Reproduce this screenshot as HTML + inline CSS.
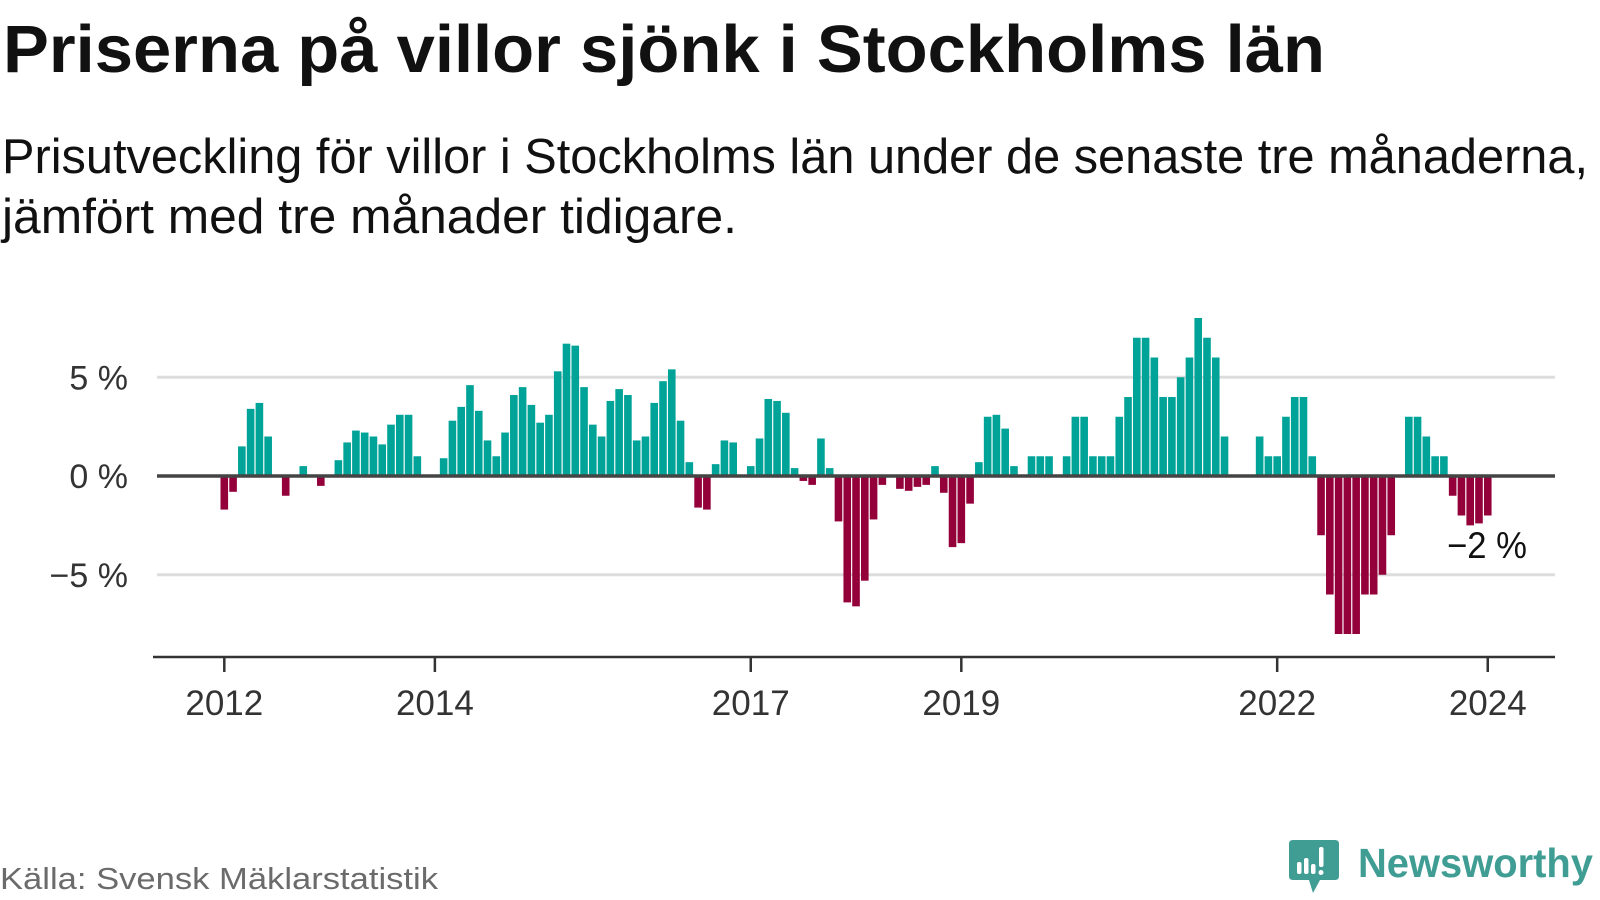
<!DOCTYPE html>
<html><head><meta charset="utf-8"><style>
html,body{margin:0;padding:0;background:#fff;}
svg{display:block;}
text{font-family:"Liberation Sans",sans-serif;}
</style></head><body>
<svg id="chart" width="1600" height="900" viewBox="0 0 1600 900">
<text x="3" y="72" font-size="67" font-weight="bold" fill="#111" textLength="1322" lengthAdjust="spacingAndGlyphs">Priserna på villor sjönk i Stockholms län</text>
<text x="2" y="173" font-size="49" fill="#111" textLength="1586" lengthAdjust="spacingAndGlyphs">Prisutveckling för villor i Stockholms län under de senaste tre månaderna,</text>
<text x="2" y="233" font-size="49" fill="#111" textLength="735" lengthAdjust="spacingAndGlyphs">jämfört med tre månader tidigare.</text>
<g id="grid"></g>
<g id="bars"></g>
<g id="axis"></g>
<text x="1447" y="558" font-size="37" fill="#111" stroke="#fff" stroke-width="6" paint-order="stroke" textLength="80" lengthAdjust="spacingAndGlyphs">−2 %</text>
<text x="0" y="889" font-size="31" fill="#6b6b6b" textLength="438" lengthAdjust="spacingAndGlyphs">Källa: Svensk Mäklarstatistik</text>
<g>
<path d="M1293 840 H1335 Q1339 840 1339 844 V876 Q1339 880 1335 880 H1320 L1313 893 L1309 880 H1293 Q1289 880 1289 876 V844 Q1289 840 1293 840 Z" fill="#3f9d94"/>
<rect x="1297" y="862" width="4.5" height="12" rx="2" fill="#fff"/>
<rect x="1304" y="858" width="4.5" height="16" rx="2" fill="#fff"/>
<rect x="1311" y="864" width="4.5" height="10" rx="2" fill="#fff"/>
<rect x="1319" y="847" width="4.5" height="20" rx="2" fill="#fff"/>
<circle cx="1321" cy="872.5" r="2.5" fill="#fff"/>
<text x="1358" y="877" font-size="41" font-weight="bold" fill="#3f9d94" textLength="235" lengthAdjust="spacingAndGlyphs">Newsworthy</text>
</g>
</svg>
<script>
const values = [-1.7,-0.8,1.5,3.4,3.7,2.0,0,-1.0,0,0.5,0,-0.5,0,0.8,1.7,2.3,2.2,2.0,1.6,2.6,3.1,3.1,1.0,0,0,0.9,2.8,3.5,4.6,3.3,1.8,1.0,2.2,4.1,4.5,3.6,2.7,3.1,5.3,6.7,6.6,4.5,2.6,2.0,3.8,4.4,4.1,1.8,2.0,3.7,4.8,5.4,2.8,0.7,-1.6,-1.7,0.6,1.8,1.7,0,0.5,1.9,3.9,3.8,3.2,0.4,-0.25,-0.45,1.9,0.4,-2.3,-6.4,-6.6,-5.3,-2.2,-0.45,0,-0.65,-0.75,-0.55,-0.45,0.5,-0.85,-3.6,-3.4,-1.4,0.7,3.0,3.1,2.4,0.5,0,1.0,1.0,1.0,0,1.0,3.0,3.0,1.0,1.0,1.0,3.0,4.0,7.0,7.0,6.0,4.0,4.0,5.0,6.0,8.0,7.0,6.0,2.0,0,0,0,2.0,1.0,1.0,3.0,4.0,4.0,1.0,-3.0,-6.0,-8.0,-8.0,-8.0,-6.0,-6.0,-5.0,-3.0,0,3.0,3.0,2.0,1.0,1.0,-1.0,-2.0,-2.5,-2.4,-2.0];
const startYear = 2012;
const tickYears = [2012,2014,2017,2019,2022,2024];
const yTicks = [5,0,-5];
const yTickLabels = ["5 %","0 %","−5 %"];

const NS = "http://www.w3.org/2000/svg";
const x0 = 224.3, pitch = 8.774;
const y0 = 476, pxPerPct = 19.75;
function xScale(i){ return x0 + i*pitch; }
function yScale(v){ return y0 - v*pxPerPct; }
function mk(tag, attrs, parent){
  const el = document.createElementNS(NS, tag);
  for (const k in attrs) el.setAttribute(k, attrs[k]);
  parent.appendChild(el);
  return el;
}
const grid = document.getElementById('grid');
const bars = document.getElementById('bars');
const axis = document.getElementById('axis');

yTicks.forEach((t, k) => {
  if (t !== 0) {
    const ln = mk('line', {x1:157, x2:1555, y1:yScale(t), y2:yScale(t), stroke:'#dddddd', 'stroke-width':3}, grid);
    
    
  }
  const tx = mk('text', {x:128, y:yScale(t)+12, 'font-size':34, fill:'#333', 'text-anchor':'end'}, grid);
  tx.textContent = yTickLabels[k];
  
  
});

const bw = 7.6;
values.forEach((v, i) => {
  if (v === 0) return;
  const y = v > 0 ? yScale(v) : y0;
  const h = Math.abs(yScale(v) - y0);
  const r = mk('rect', {x:xScale(i)-bw/2, y:y, width:bw, height:h, fill: v > 0 ? '#00a398' : '#93003a'}, bars);
  
  
});

const zl = mk('line', {x1:157, x2:1555, y1:y0, y2:y0, stroke:'#444', 'stroke-width':3.5}, axis);


const al = mk('line', {x1:153, x2:1555, y1:657, y2:657, stroke:'#333', 'stroke-width':2.5}, axis);


tickYears.forEach(yr => {
  const x = xScale((yr - startYear)*12);
  const tk = mk('line', {x1:x, x2:x, y1:657, y2:672, stroke:'#333', 'stroke-width':2.5}, axis);
  
  
  const tx = mk('text', {x:x, y:715, 'font-size':35, fill:'#333', 'text-anchor':'middle'}, axis);
  tx.textContent = String(yr);
  
  
});
</script>
</body></html>
